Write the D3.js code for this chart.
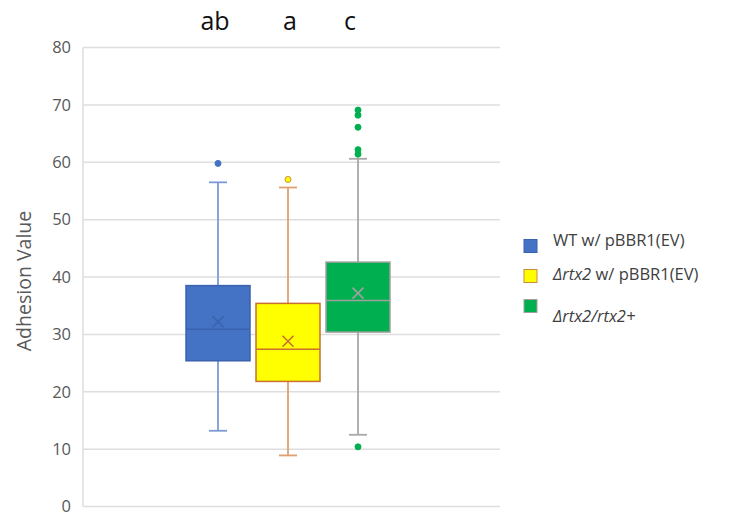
<!DOCTYPE html>
<html><head><meta charset="utf-8">
<script src="https://cdn.jsdelivr.net/npm/d3@7"></script>
<style>body{margin:0;background:#fff}svg{display:block}</style>
</head><body>
<svg id="chart" width="730" height="521"></svg>
<script>
const series = ["WT w/ pBBR1(EV)", "Δrtx2 w/ pBBR1(EV)", "Δrtx2/rtx2+"];
const letters = ["ab", "a", "c"];
const whiskerLow = [13.2, 8.9, 12.5];
const q1 = [25.4, 21.8, 30.4];
const median = [30.9, 27.4, 35.9];
const q3 = [38.5, 35.4, 42.6];
const whiskerHigh = [56.5, 55.6, 60.6];
const mean = [32.2, 28.8, 37.2];
const outliers = [[59.8], [57.0], [10.4, 61.4, 62.2, 66.1, 68.2, 69.1]];
const yTicks = [0, 10, 20, 30, 40, 50, 60, 70, 80];

const fills = ["#4472C4", "#FFFF00", "#00B050"];
const strokes = ["#3a62ad", "#c8702e", "#a0a0a0"];
const whiskerCols = ["#7c9ad4", "#e0a070", "#a8a8a8"];

const svg = d3.select("#chart");
const L = 83, R = 500, T = 47.5, B = 506.5;
const y = d3.scaleLinear().domain([0, 80]).range([B, T]);
const x = d3.scalePoint().domain(series).range([218, 358]);
const bw = 64, cap = 18;

// gridlines
svg.append("g").selectAll("line").data(yTicks).join("line")
  .attr("x1", L).attr("x2", R).attr("y1", d => y(d)).attr("y2", d => y(d))
  .attr("stroke", "#dedede").attr("stroke-width", 1.5);
svg.append("line").attr("x1", L).attr("x2", L).attr("y1", T).attr("y2", B)
  .attr("stroke", "#dedede").attr("stroke-width", 1.5);

// y axis via d3
const yAxis = svg.append("g").attr("transform", `translate(${L},0)`)
  .call(d3.axisLeft(y).tickValues(yTicks).tickSize(0).tickPadding(12));
yAxis.select(".domain").remove();
yAxis.selectAll("text").attr("font-family", "'Open Sans', sans-serif")
  .attr("font-size", 16.5).attr("fill", "#595959");

svg.append("text").attr("transform", `translate(31,281) rotate(-90)`)
  .attr("text-anchor", "middle").attr("font-family", "'Open Sans', sans-serif")
  .attr("font-size", 19.5).attr("fill", "#595959").text("Adhesion Value");

// boxes
series.forEach((s, i) => {
  const cx = x(s);
  const g = svg.append("g");
  g.append("line").attr("x1", cx).attr("x2", cx).attr("y1", y(whiskerHigh[i])).attr("y2", y(q3[i]))
    .attr("stroke", whiskerCols[i]).attr("stroke-width", 1.8);
  g.append("line").attr("x1", cx).attr("x2", cx).attr("y1", y(q1[i])).attr("y2", y(whiskerLow[i]))
    .attr("stroke", whiskerCols[i]).attr("stroke-width", 1.8);
  [whiskerHigh[i], whiskerLow[i]].forEach(v => g.append("line")
    .attr("x1", cx - cap / 2).attr("x2", cx + cap / 2).attr("y1", y(v)).attr("y2", y(v))
    .attr("stroke", whiskerCols[i]).attr("stroke-width", 1.8));
  g.append("rect").attr("x", cx - bw / 2).attr("y", y(q3[i])).attr("width", bw)
    .attr("height", y(q1[i]) - y(q3[i])).attr("fill", fills[i])
    .attr("stroke", strokes[i]).attr("stroke-width", 1.5);
  g.append("line").attr("x1", cx - bw / 2).attr("x2", cx + bw / 2)
    .attr("y1", y(median[i])).attr("y2", y(median[i]))
    .attr("stroke", strokes[i]).attr("stroke-width", 1.5);
  const m = y(mean[i]), k = 5.5;
  g.append("path").attr("d", `M${cx - k},${m - k}L${cx + k},${m + k}M${cx - k},${m + k}L${cx + k},${m - k}`)
    .attr("stroke", strokes[i]).attr("stroke-width", 1.6).attr("fill", "none");
  outliers[i].forEach(v => g.append("circle").attr("cx", cx).attr("cy", y(v)).attr("r", 3)
    .attr("fill", fills[i]).attr("stroke", i === 1 ? "#d08a40" : fills[i]).attr("stroke-width", 1));
  svg.append("text").attr("x", cx + [-3, 2, -8][i]).attr("y", 30).attr("text-anchor", "middle")
    .attr("font-family", "'Open Sans', sans-serif").attr("font-size", 25).attr("fill", "#111")
    .text(letters[i]);
});

// legend
const lg = svg.append("g").attr("font-family", "'Open Sans', sans-serif").attr("font-size", 16.5).attr("fill", "#404040");
const sqY = [246.5, 276.5, 306.5];
const txY = [246, 280, 322];
series.forEach((s, i) => {
  lg.append("rect").attr("x", 524).attr("y", sqY[i] - 7).attr("width", 13).attr("height", 13)
    .attr("fill", fills[i]).attr("stroke", i === 1 ? "#d08a40" : strokes[i]).attr("stroke-width", 1);
  const t = lg.append("text").attr("x", 553).attr("y", txY[i]).attr("fill", "#404040");
  if (i === 0) t.text(s);
  else if (i === 1) {
    t.append("tspan").attr("font-style", "italic").text("Δrtx2");
    t.append("tspan").text(" w/ pBBR1(EV)");
  } else t.append("tspan").attr("font-style", "italic").text(s);
});
</script>
</body></html>
